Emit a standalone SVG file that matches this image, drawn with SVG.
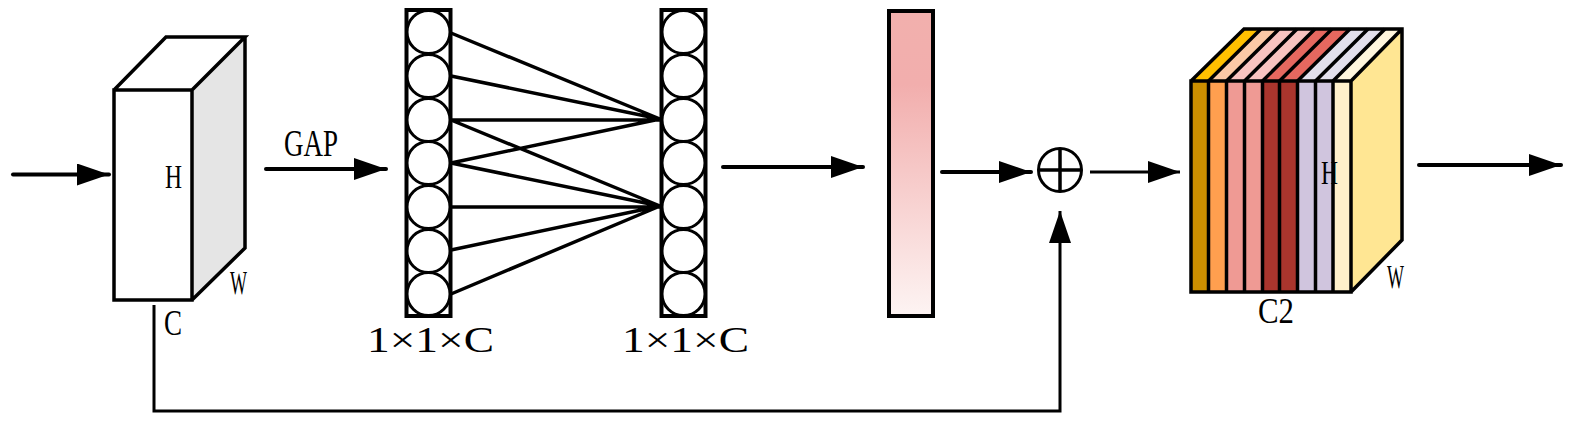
<svg xmlns="http://www.w3.org/2000/svg" width="1570" height="424" viewBox="0 0 1570 424">
<style>
.t{font-family:"Liberation Serif","Noto Serif",serif;fill:#000;stroke:none}
.s{fill:none;stroke:#000;stroke-width:3.5;stroke-linejoin:miter}
.c{fill:#fff;stroke:#000;stroke-width:3}
.l{fill:none;stroke:#000;stroke-width:3.5}
.a{fill:none;stroke:#000;stroke-width:4;stroke-linecap:round;marker-end:url(#h)}
.b{fill:none;stroke:#000;stroke-width:3;marker-end:url(#h)}
</style>
<defs>
<marker id="h" markerUnits="userSpaceOnUse" markerWidth="33" markerHeight="22" refX="32" refY="11" orient="auto"><path d="M0 0L32 11L0 22Z" fill="#000"/></marker>
<linearGradient id="g" x1="0" y1="0" x2="0" y2="1"><stop offset="0" stop-color="#f2b0ad"/><stop offset=".24" stop-color="#f2aead"/><stop offset="1" stop-color="#fdf4f3"/></linearGradient>
<g id="col"><rect x="-22" y="0" width="44" height="306" fill="#fff" stroke="#000" stroke-width="4"/>
<circle class="c" cx="0" cy="22" r="21.5"/><circle class="c" cx="0" cy="66" r="21.5"/><circle class="c" cx="0" cy="110" r="21.5"/><circle class="c" cx="0" cy="153" r="21.5"/><circle class="c" cx="0" cy="197" r="21.5"/><circle class="c" cx="0" cy="241" r="21.5"/><circle class="c" cx="0" cy="284" r="21.5"/></g>
</defs>
<g id="input-block">
<path d="M192 90L245 37V248L192 300Z" fill="#e5e5e5"/>
<path class="s" d="M114 90H192V300H114ZM114 90L166 37H245L192 90M245 37V248L192 300"/>
<text class="t" x="165" y="188" font-size="34" textLength="17" lengthAdjust="spacingAndGlyphs">H</text>
<text class="t" x="230" y="294" font-size="34" textLength="17" lengthAdjust="spacingAndGlyphs">W</text>
<text class="t" x="164" y="335" font-size="36" textLength="18" lengthAdjust="spacingAndGlyphs">C</text>
</g>
<g id="gap-label"><text class="t" x="284" y="156" font-size="37" textLength="54" lengthAdjust="spacingAndGlyphs">GAP</text></g>
<g id="fc-left"><use href="#col" x="428.500" y="10"/>
<text class="t" x="367" y="352" font-size="36" textLength="127" lengthAdjust="spacingAndGlyphs">1×1×C</text></g>
<g id="fc-right"><use href="#col" x="683.500" y="10"/>
<text class="t" x="622" y="352" font-size="36" textLength="127" lengthAdjust="spacingAndGlyphs">1×1×C</text></g>
<g id="weights"><rect x="889" y="11" width="44" height="305" fill="url(#g)" stroke="#000" stroke-width="4"/></g>
<g id="sum"><circle cx="1060" cy="170" r="21.500" fill="#fff" stroke="#000" stroke-width="3"/><path class="l" stroke-width="3" d="M1038 170H1082M1060 148V192"/></g>
<g id="output-block">
<path d="M1351 81L1402 29V240L1351 292Z" fill="#ffe693"/>
<path fill="#ffc000" d="M1191 81L1244 29H1261L1208 81Z"/>
<path fill="#fbc9a6" d="M1208 81L1261 29H1279L1226 81Z"/>
<path fill="#f8c3c0" d="M1226 81L1279 29H1315L1262 81Z"/>
<path fill="#e6685f" d="M1262 81L1315 29H1350L1297 81Z"/>
<path fill="#e2dfeb" d="M1297 81L1350 29H1385L1333 81Z"/>
<path fill="#fff6dd" d="M1333 81L1385 29H1402L1351 81Z"/>
<rect x="1191" y="81" width="17" height="211" fill="#cc8f00"/>
<rect x="1208" y="81" width="18" height="211" fill="#ff9f4f"/>
<rect x="1226" y="81" width="36" height="211" fill="#ef9a94"/>
<rect x="1262" y="81" width="35" height="211" fill="#aa352d"/>
<rect x="1297" y="81" width="36" height="211" fill="#d0c5de"/>
<rect x="1333" y="81" width="18" height="211" fill="#fff0cb"/>
<path class="s" d="M1191 81H1351V292H1191ZM1191 81L1244 29H1402V240L1351 292M1351 81L1402 29"/>
<path class="l" d="M1208.500 81V292M1226.500 81V292M1244.500 81V292M1262.500 81V292M1279.500 81V292M1297.500 81V292M1315.500 81V292M1333 81V292M1208.500 81L1261 29M1226.500 81L1279 29M1244.500 81L1297 29M1262.500 81L1315 29M1279.500 81L1332 29M1297.500 81L1350 29M1315.500 81L1368 29M1333 81L1385 29"/>
<text class="t" x="1321" y="184" font-size="34" textLength="17" lengthAdjust="spacingAndGlyphs">H</text>
<text class="t" x="1387" y="288" font-size="34" textLength="17" lengthAdjust="spacingAndGlyphs">W</text>
<text class="t" x="1258" y="323" font-size="36" textLength="36" lengthAdjust="spacingAndGlyphs">C2</text>
</g>
<g id="connectors">
<path class="a" d="M13 174.500H109"/>
<path class="a" d="M266 169H386"/>
<path class="a" d="M723 167H863"/>
<path class="a" d="M942 172H1031"/>
<path class="b" d="M1090 172H1180"/>
<path class="a" d="M1419 165H1561"/>
<path class="b" d="M154 305V411H1060V242V211"/>
<path class="l" d="M451 33L660 119M451 76L660 119M451 120H660M451 163L660 119M451 120L660 206M451 163L660 206M451 207H660M451 250L660 206M451 294L660 206"/>
</g>
</svg>
